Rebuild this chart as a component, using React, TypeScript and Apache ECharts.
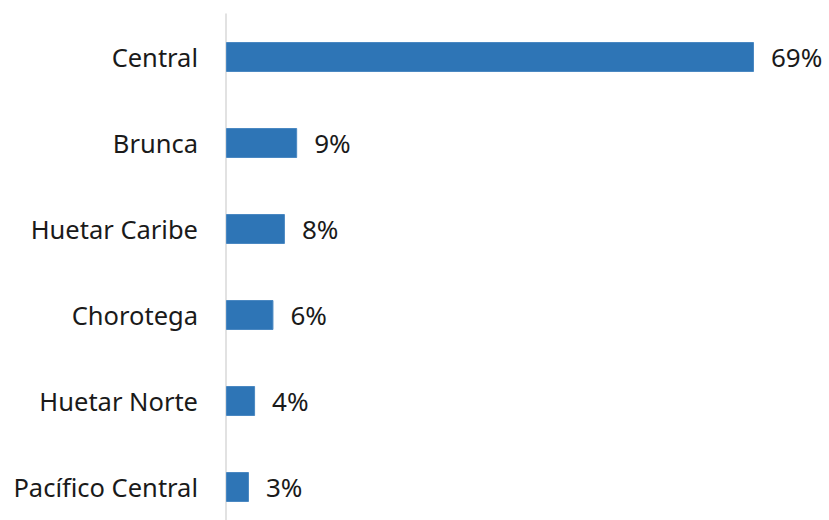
import React, { useEffect, useRef } from "react";
import * as echarts from "echarts";

const categories = ["Central", "Brunca", "Huetar Caribe", "Chorotega", "Huetar Norte", "Pacífico Central"];
const values = [69, 9.3, 7.7, 6.2, 3.8, 3.0];

export default function App() {
  const ref = useRef<HTMLDivElement>(null);
  useEffect(() => {
    const chart = echarts.init(ref.current!, null, { renderer: "svg" });
    chart.setOption({
      animation: false,
      grid: { left: 226, right: 75, top: 14, height: 516, containLabel: false, outerBoundsMode: "none" },
      xAxis: {
        type: "value",
        min: 0,
        max: 69,
        show: false,
      },
      yAxis: {
        type: "category",
        inverse: true,
        data: categories,
        axisLine: { show: true, lineStyle: { color: "#d9d9d9", width: 1.5 } },
        axisTick: { show: false },
        axisLabel: {
          margin: 28,
          fontSize: 25.5,
          color: "#1a1a1a",
          fontFamily: "Noto Sans",
        },
      },
      series: [
        {
          type: "bar",
          data: values,
          barWidth: 30,
          itemStyle: { color: "#2e75b6", borderColor: "#4a88c2", borderWidth: 1 },
          label: {
            show: true,
            position: "right",
            distance: 17,
            fontSize: 26,
            color: "#1a1a1a",
            fontFamily: "Noto Sans",
            formatter: (p: any) => Math.round(p.value) + "%",
          },
        },
      ],
    });
    return () => chart.dispose();
  }, []);
  return <div ref={ref} style={{ width: 829, height: 520, position: "absolute", left: 0, top: 0 }} />;
}
